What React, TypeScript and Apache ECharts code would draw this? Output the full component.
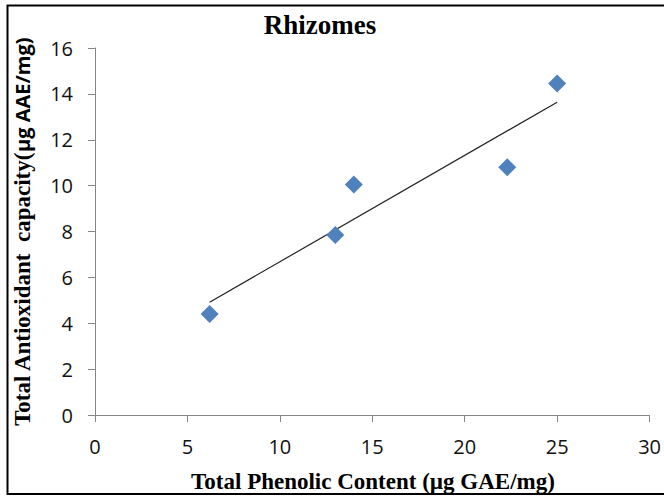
import React, { useEffect, useRef } from "react";
import * as echarts from "echarts";

const phenolic = [6.2, 13.0, 14.0, 22.3, 25.0];
const antioxidant = [4.4, 7.85, 10.05, 10.8, 14.45];
const xTicks = { min: 0, max: 30, interval: 5 };
const yTicks = { min: 0, max: 16, interval: 2 };

function linearFit(xs: number[], ys: number[]) {
  const n = xs.length;
  const mx = xs.reduce((a, b) => a + b, 0) / n;
  const my = ys.reduce((a, b) => a + b, 0) / n;
  let sxy = 0;
  let sxx = 0;
  for (let i = 0; i < n; i++) {
    sxy += (xs[i] - mx) * (ys[i] - my);
    sxx += (xs[i] - mx) * (xs[i] - mx);
  }
  const slope = sxy / sxx;
  const intercept = my - slope * mx;
  return { slope, intercept };
}

export default function App() {
  const ref = useRef<HTMLDivElement>(null);
  useEffect(() => {
    if (!ref.current) return;
    const chart = echarts.init(ref.current, null, { renderer: "svg" });
    const fit = linearFit(phenolic, antioxidant);
    const x0 = Math.min(...phenolic);
    const x1 = Math.max(...phenolic);
    const trend = [
      [x0, fit.intercept + fit.slope * x0],
      [x1, fit.intercept + fit.slope * x1],
    ];
    const axisLineColor = "#868686";
    const labelStyle = {
      fontFamily: "Open Sans",
      fontSize: 20,
      color: "#111",
    };
    chart.setOption({
      animation: false,
      backgroundColor: "#fff",
      grid: { left: 95, right: 14, top: 48, bottom: 82, containLabel: false },
      xAxis: {
        type: "value",
        min: xTicks.min,
        max: xTicks.max,
        interval: xTicks.interval,
        splitLine: { show: false },
        axisLine: { show: true, lineStyle: { color: axisLineColor, width: 1 } },
        axisTick: { show: true, length: 7, lineStyle: { color: axisLineColor } },
        axisLabel: { ...labelStyle, margin: 21 },
      },
      yAxis: {
        type: "value",
        min: yTicks.min,
        max: yTicks.max,
        interval: yTicks.interval,
        splitLine: { show: false },
        axisLine: { show: true, lineStyle: { color: axisLineColor, width: 1 } },
        axisTick: { show: true, length: 7, lineStyle: { color: axisLineColor } },
        axisLabel: { ...labelStyle, margin: 22 },
      },
      graphic: [
        {
          type: "rect",
          shape: { x: 7.5, y: 5.5, width: 680, height: 488.5 },
          style: { fill: "none", stroke: "#000", lineWidth: 2 },
          silent: true,
        },
        {
          type: "text",
          x: 320,
          y: 25,
          style: {
            text: "Rhizomes",
            fontFamily: "Liberation Serif",
            fontWeight: "bold",
            fontSize: 27,
            fill: "#000",
            align: "center",
            verticalAlign: "middle",
          },
        },
        {
          type: "text",
          x: 373,
          y: 481,
          style: {
            text: "Total Phenolic Content (µg GAE/mg)",
            fontFamily: "Liberation Serif",
            fontWeight: "bold",
            fontSize: 23,
            fill: "#000",
            align: "center",
            verticalAlign: "middle",
          },
        },
        {
          type: "text",
          x: 22,
          y: 232,
          rotation: Math.PI / 2,
          style: {
            text: "{a|Total Antioxidant  capacity(}{b|µg AAE/mg)}",
            align: "center",
            verticalAlign: "middle",
            rich: {
              a: {
                fontFamily: "Liberation Serif",
                fontWeight: "bold",
                fontSize: 23,
                fill: "#000",
                color: "#000",
              },
              b: {
                fontFamily: "Open Sans",
                fontWeight: "bold",
                fontSize: 20,
                fill: "#000",
                color: "#000",
              },
            },
          },
        },
      ],
      series: [
        {
          type: "line",
          data: trend,
          showSymbol: false,
          symbol: "none",
          lineStyle: { color: "#222", width: 1.2 },
          silent: true,
          z: 2,
        },
        {
          type: "scatter",
          data: phenolic.map((x, i) => [x, antioxidant[i]]),
          symbol: "diamond",
          symbolSize: 18,
          itemStyle: { color: "#4F81BD", opacity: 1 },
          z: 3,
        },
      ],
    });
    return () => chart.dispose();
  }, []);
  return (
    <div
      ref={ref}
      style={{ position: "absolute", left: 0, top: 0, width: 664, height: 497 }}
    />
  );
}
